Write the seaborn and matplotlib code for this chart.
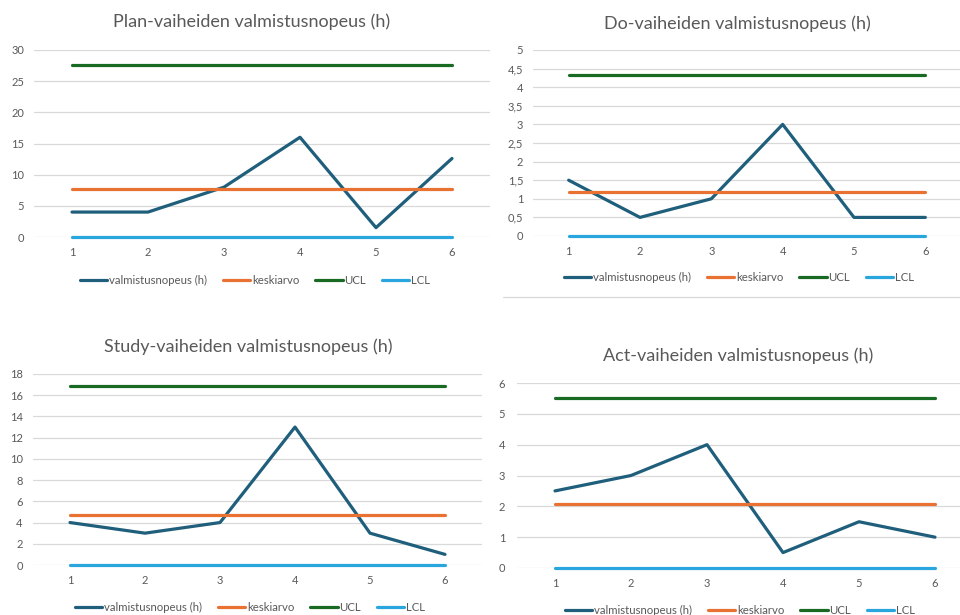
import matplotlib
matplotlib.use("Agg")
import matplotlib.pyplot as plt
import matplotlib.ticker as mticker
from matplotlib.lines import Line2D
import pandas as pd
import seaborn as sns

# Six measured phases per PDSA step
vaihe = [1, 2, 3, 4, 5, 6]

plan_arvot = [4, 4, 8, 16, 1.5, 12.6]
do_arvot = [1.5, 0.5, 1, 3, 0.5, 0.5]
study_arvot = [4, 3, 4, 13, 3, 1]
act_arvot = [2.5, 3, 4, 0.5, 1.5, 1]

# Control-chart reference levels (mean, upper and lower control limit)
plan_raja = {"keskiarvo": 7.68, "UCL": 27.6, "LCL": 0}
do_raja = {"keskiarvo": 1.17, "UCL": 4.33, "LCL": 0}
study_raja = {"keskiarvo": 4.67, "UCL": 16.9, "LCL": 0}
act_raja = {"keskiarvo": 2.08, "UCL": 5.5, "LCL": 0}

otsikot = [
    "Plan-vaiheiden valmistusnopeus (h)",
    "Do-vaiheiden valmistusnopeus (h)",
    "Study-vaiheiden valmistusnopeus (h)",
    "Act-vaiheiden valmistusnopeus (h)",
]

sarja_nimi = "valmistusnopeus (h)"
varit = {
    sarja_nimi: "#1F5F7C",
    "keskiarvo": "#E97132",
    "UCL": "#196B24",
    "LCL": "#2AA6DF",
}

sns.set_theme(style="white")
plt.rcParams["font.family"] = ["Lato", "DejaVu Sans"]

W, H = 960, 615
fig = plt.figure(figsize=(W / 100, H / 100), dpi=100)
fig.patch.set_facecolor("white")

TEXT = "#595959"
GRID = "#D9D9D9"


def px_axes(x0, y0, x1, y1):
    return fig.add_axes([x0 / W, 1 - y1 / H, (x1 - x0) / W, (y1 - y0) / H])


def comma(v, _pos):
    return f"{v:g}".replace(".", ",")


paneelit = [
    # values, limits, ymax, ystep, axes box (px), title (px), legend (px), ytick pad
    (plan_arvot, plan_raja, 30, 5, (34, 50, 490, 237), (252, 22), (255, 280), 7),
    (do_arvot, do_raja, 5, 0.5, (533, 50, 961, 236), (737, 24), (739, 277), 7),
    (study_arvot, study_raja, 18, 2, (32.5, 374, 482.5, 565), (248, 347), (250, 607), 7),
    (act_arvot, act_raja, 6, 1, (517, 383, 973, 568), (738, 356), (740, 610), 8.5),
]

for (arvot, rajat, ymax, ystep, box, tpos, lpos, pad), otsikko in zip(paneelit, otsikot):
    ax = px_axes(*box)
    ax.set_facecolor("none")

    rivit = [{"vaihe": v, "arvo": a, "sarja": sarja_nimi} for v, a in zip(vaihe, arvot)]
    for nimi in ["keskiarvo", "UCL", "LCL"]:
        rivit += [{"vaihe": v, "arvo": rajat[nimi], "sarja": nimi} for v in vaihe]
    df = pd.DataFrame(rivit)

    sns.lineplot(
        data=df, x="vaihe", y="arvo", hue="sarja",
        hue_order=[sarja_nimi, "keskiarvo", "UCL", "LCL"],
        palette=varit, linewidth=2.3, ax=ax, legend=False,
        clip_on=False, zorder=3,
    )

    ax.set_xlim(0.5, 6.5)
    ax.set_ylim(0, ymax)
    ax.set_xticks(vaihe)
    ax.yaxis.set_major_locator(mticker.MultipleLocator(ystep))
    ax.yaxis.set_major_formatter(mticker.FuncFormatter(comma))
    ax.set_xlabel("")
    ax.set_ylabel("")
    for s in ax.spines.values():
        s.set_visible(False)
    ax.grid(axis="y", color=GRID, linewidth=0.9, zorder=0)
    ax.grid(axis="x", visible=False)
    ax.tick_params(axis="both", length=0, labelsize=8, labelcolor=TEXT)
    ax.tick_params(axis="y", pad=pad)
    ax.tick_params(axis="x", pad=7.5)

    fig.text(tpos[0] / W, 1 - tpos[1] / H, otsikko, ha="center", va="center",
             fontsize=13, color=TEXT)

    kahvat = [Line2D([0], [0], color=varit[n], lw=2.3)
              for n in [sarja_nimi, "keskiarvo", "UCL", "LCL"]]
    fig.legend(
        kahvat, [sarja_nimi, "keskiarvo", "UCL", "LCL"],
        loc="center", bbox_to_anchor=(lpos[0] / W, 1 - lpos[1] / H),
        ncol=4, frameon=False, fontsize=8.2, labelcolor=TEXT,
        handlelength=2.4, handletextpad=0.15, columnspacing=1.4,
    )

# Lower border of the upper-right chart frame
fig.add_artist(Line2D([503 / W, 1], [1 - 297 / H, 1 - 297 / H],
                      color=GRID, lw=0.9, transform=fig.transFigure))

fig.savefig("out.png", dpi=100, facecolor="white")
